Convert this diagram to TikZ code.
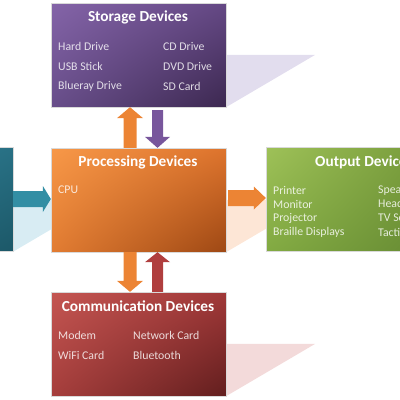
\documentclass[tikz,border=0pt]{standalone}
\usepackage{fontspec}
\setmainfont{Carlito}
\usetikzlibrary{calc,backgrounds,shadings}
\definecolor{pA}{RGB}{132,100,168}\definecolor{pB}{RGB}{100,72,132}\definecolor{pC}{RGB}{104,78,138}\definecolor{pD}{RGB}{60,40,80}
\definecolor{oA}{RGB}{247,152,72}\definecolor{oB}{RGB}{222,116,45}\definecolor{oC}{RGB}{226,124,50}\definecolor{oD}{RGB}{158,72,20}
\definecolor{gA}{RGB}{158,193,88}\definecolor{gB}{RGB}{116,152,56}\definecolor{gC}{RGB}{130,170,66}\definecolor{gD}{RGB}{100,136,50}
\definecolor{rA}{RGB}{196,86,82}\definecolor{rB}{RGB}{160,56,56}\definecolor{rC}{RGB}{166,62,60}\definecolor{rD}{RGB}{98,30,30}
\definecolor{tA}{RGB}{52,136,158}\definecolor{tB}{RGB}{40,112,132}\definecolor{tC}{RGB}{40,110,130}\definecolor{tD}{RGB}{28,88,104}
\definecolor{shP}{RGB}{226,221,238}\definecolor{shO}{RGB}{253,230,214}\definecolor{shR}{RGB}{243,218,218}\definecolor{shT}{RGB}{216,236,243}
\definecolor{arO}{RGB}{236,132,52}\definecolor{arP}{RGB}{120,86,156}\definecolor{arR}{RGB}{176,62,62}\definecolor{arT}{RGB}{50,142,164}
\tikzset{
  box/.style={rectangle,minimum width=175pt,minimum height=104pt,inner sep=0pt,draw=white!70!gray,line width=0.3pt},
  title/.style={font=\fontsize{15.3}{16}\selectfont\bfseries,text=white,inner sep=0pt},
  item/.style={font=\fontsize{11.8}{12}\selectfont,text=white,text opacity=0.82,anchor=west,inner sep=0pt},
}
\begin{document}
\begin{tikzpicture}[x=1pt,y=-1pt]
\useasboundingbox (0,0) rectangle (400,400);
\clip (0,0) rectangle (400,400);
% boxes
\node[box,upper left=pA,upper right=pB,lower left=pC,lower right=pD] (store) at (138.5,55) {};
\node[box,upper left=oA,upper right=oB,lower left=oC,lower right=oD] (proc) at (138.5,200) {};
\node[box,upper left=gA,upper right=gB,lower left=gC,lower right=gD] (out) at (353.5,199.5) {};
\node[box,upper left=rA,upper right=rB,lower left=rC,lower right=rD] (comm) at (138.5,344) {};
\node[box,upper left=tA,upper right=tB,lower left=tC,lower right=tD] (inp) at (-74.5,199.5) {};
% shadows
\begin{scope}[on background layer]
\fill[shP] ($(store.north east)+(0,52)$) -- ++(89,0) -- (store.south east) -- cycle;
\fill[shO] ($(proc.north east)+(0,52)$) -- ++(89,0) -- (proc.south east) -- cycle;
\fill[shR] ($(comm.north east)+(0,52)$) -- ++(89,0) -- (comm.south east) -- cycle;
\fill[shT] ($(inp.north east)+(0,52)$) -- ++(89,0) -- (inp.south east) -- cycle;
\end{scope}
% arrows
\coordinate (t1) at ($(store.south)+(-8.5,0)$);
\fill[arO] (t1) -- ++(13,11) -- ++(-6.5,0) -- ($(t1|-proc.north)+(6.5,0)$) -- ++(-13,0) -- ($(t1)+(-6.5,11)$) -- ++(-6.5,0) -- cycle;
\coordinate (t2) at ($(proc.north)+(19,0)$);
\fill[arP] (t2) -- ++(12.5,-11) -- ++(-7,0) -- ($(t2|-store.south)+(5.5,3)$) -- ++(-11,0) -- ($(t2)+(-5.5,-11)$) -- ++(-7,0) -- cycle;
\coordinate (t3) at ($(comm.north)+(-8.5,0)$);
\fill[arO] (t3) -- ++(13,-11) -- ++(-6.5,0) -- ($(t3|-proc.south)+(6.5,0)$) -- ++(-13,0) -- ($(t3)+(-6.5,-11)$) -- ++(-6.5,0) -- cycle;
\coordinate (t4) at ($(proc.south)+(19,0)$);
\fill[arR] (t4) -- ++(12.5,10) -- ++(-7,0) -- ($(t4|-comm.north)+(5.5,0)$) -- ++(-11,0) -- ($(t4)+(-5.5,10)$) -- ++(-7,0) -- cycle;
\coordinate (t5) at ($(proc.west)+(0,-1)$);
\fill[arT] (t5) -- ++(-8,13) -- ++(0,-5) -- ($(t5-|inp.east)+(0,8)$) -- ++(0,-16) -- ($(t5)+(-8,-8)$) -- ++(0,-5) -- cycle;
\coordinate (t6) at ($(out.west)+(0,-1.5)$);
\fill[arO] (t6) -- ++(-12,11.5) -- ++(0,-3.5) -- ($(t6-|proc.east)+(2,8)$) -- ++(0,-16) -- ($(t6)+(-12,-8)$) -- ++(0,-3.5) -- cycle;
% titles
\node[title] (st) at (138,17) {Storage Devices};
\node[title] (pt) at (138,162) {Processing Devices};
\node[title,anchor=west] (ot) at (315,162) {Output Devices};
\node[title] (ct) at (138,306) {Communication Devices};
% items
\node[item] (s1) at (58,46) {Hard Drive};
\node[item] (s2) at (58,66) {USB Stick};
\node[item] (s3) at (58,86) {Blueray Drive};
\node[item] (s4) at (163,46) {CD Drive};
\node[item] (s5) at (163,66) {DVD Drive};
\node[item] (s6) at (163,86) {SD Card};
\node[item] (p1) at (58,190) {CPU};
\node[item] (o1) at (273,190) {Printer};
\node[item] (o2) at (273,204) {Monitor};
\node[item] (o3) at (273,218) {Projector};
\node[item] (o4) at (273,232) {Braille Displays};
\node[item] (o5) at (378,190) {Speakers};
\node[item] (o6) at (378,204) {Headphones};
\node[item] (o7) at (378,218) {TV Screen};
\node[item] (o8) at (378,232) {Tactile};
\node[item] (c1) at (58,335) {Modem};
\node[item] (c2) at (58,355) {WiFi Card};
\node[item] (c3) at (133,335) {Network Card};
\node[item] (c4) at (133,355) {Bluetooth};
\end{tikzpicture}
\end{document}
